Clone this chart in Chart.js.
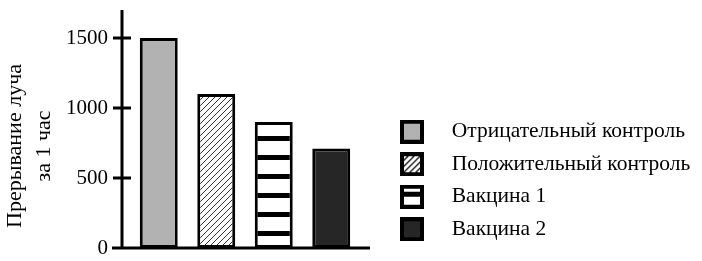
<!DOCTYPE html>
<html>
<head>
<meta charset="utf-8">
<script src="https://cdn.jsdelivr.net/npm/chart.js@4/dist/chart.umd.min.js"></script>
<style>
  html, body { margin: 0; padding: 0; background: #fff; }
  #wrap { width: 702px; height: 261px; position: relative; }
</style>
</head>
<body>
<div id="wrap"><canvas id="chart"></canvas></div>
<script>
const categories = ['Отрицательный контроль', 'Положительный контроль', 'Вакцина 1', 'Вакцина 2'];
const values = [1500, 1100, 900, 710];
const yTicks = [0, 500, 1000, 1500];
const yTitle = ['Прерывание луча', 'за 1 час'];

const serif = '"Liberation Serif", "DejaVu Serif", serif';
const legendFontSize = 21.5;

// hatch "////" for the positive control
function hatchPattern(ctx) {
  const c = document.createElement('canvas');
  c.width = 6; c.height = 6;
  const g = c.getContext('2d');
  g.fillStyle = '#fff';
  g.fillRect(0, 0, 6, 6);
  g.strokeStyle = '#333';
  g.lineWidth = 1;
  g.beginPath();
  g.moveTo(0, 6); g.lineTo(6, 0);
  g.moveTo(-1, 1); g.lineTo(1, -1);
  g.moveTo(5, 7); g.lineTo(7, 5);
  g.stroke();
  return ctx.createPattern(c, 'repeat');
}

// horizontal black bands for vaccine 1
function stripePattern(ctx) {
  const c = document.createElement('canvas');
  c.width = 4; c.height = 19;
  const g = c.getContext('2d');
  g.fillStyle = '#fff';
  g.fillRect(0, 0, 4, 19);
  g.fillStyle = '#000';
  g.fillRect(0, 3, 4, 5);
  return ctx.createPattern(c, 'repeat');
}

const canvas = document.getElementById('chart');
const ctx = canvas.getContext('2d');
const fills = ['#b2b2b2', hatchPattern(ctx), stripePattern(ctx), '#262626'];

// legend swatches: transparent space on the left, box of 24px, then gap
const swatchW = 70, swatchOff = 29;
function makeSwatch(i) {
  const c = document.createElement('canvas');
  c.width = swatchW; c.height = 24;
  const g = c.getContext('2d');
  const x = swatchOff;
  if (i === 2) {
    g.fillStyle = '#fff';
    g.fillRect(x, 0, 24, 24);
    g.fillStyle = '#000';
    g.fillRect(x, 7, 24, 5);
  } else if (i === 1) {
    g.fillStyle = '#fff';
    g.fillRect(x, 0, 24, 24);
    g.save();
    g.beginPath(); g.rect(x, 0, 24, 24); g.clip();
    g.strokeStyle = '#111';
    g.lineWidth = 1.3;
    g.beginPath();
    for (let k = -24; k < 48; k += 6) {
      g.moveTo(x + k, 24); g.lineTo(x + k + 24, 0);
    }
    g.stroke();
    g.restore();
  } else {
    g.fillStyle = fills[i];
    g.fillRect(x, 0, 24, 24);
  }
  g.strokeStyle = '#000';
  g.lineWidth = 4;
  g.strokeRect(x + 2, 2, 20, 20);
  return c;
}
const swatches = categories.map((c, i) => makeSwatch(i));

// the legend should take 342px on the right so the plot ends at x=360
const legendPad = 11;
ctx.font = legendFontSize + 'px ' + serif;
const textW = Math.max(...categories.map(c => ctx.measureText(c).width));
const naturalW = legendPad + swatchW + legendFontSize / 2 + textW + 10;
const padRight = Math.max(0, Math.ceil(342 - naturalW));

// axis lines with ticks crossing the y axis, x axis running a bit past both ends
const axesPlugin = {
  id: 'axesLines',
  afterDatasetsDraw(chart) {
    const { ctx, chartArea } = chart;
    const y = chart.scales.y;
    const axisX = chartArea.left - 8;
    ctx.save();
    ctx.strokeStyle = '#000';
    ctx.lineWidth = 3;
    ctx.beginPath();
    ctx.moveTo(axisX, chartArea.top);
    ctx.lineTo(axisX, chartArea.bottom);
    ctx.moveTo(chartArea.left - 18, chartArea.bottom);
    ctx.lineTo(chartArea.right + 10, chartArea.bottom);
    y.ticks.forEach(t => {
      if (t.value === 0) return;
      const py = y.getPixelForValue(t.value);
      ctx.moveTo(axisX - 9, py);
      ctx.lineTo(axisX + 9, py);
    });
    ctx.stroke();
    ctx.restore();
  }
};

// two-line rotated y title, sitting a little below the middle of the axis
const yTitlePlugin = {
  id: 'yTitle',
  afterDraw(chart) {
    const { ctx, chartArea } = chart;
    const cy = (chartArea.top + chartArea.bottom) / 2 + 17;
    ctx.save();
    ctx.translate(0, cy);
    ctx.rotate(-Math.PI / 2);
    ctx.fillStyle = '#000';
    ctx.font = '22px ' + serif;
    ctx.textAlign = 'center';
    ctx.textBaseline = 'alphabetic';
    ctx.fillText(yTitle[0], 0, 21);
    ctx.fillText(yTitle[1], 0, 50);
    ctx.restore();
  }
};

new Chart(canvas, {
  type: 'bar',
  data: {
    labels: categories,
    datasets: [{
      data: values,
      backgroundColor: fills,
      borderColor: '#000',
      borderWidth: 3,
      borderSkipped: false,
      categoryPercentage: 1,
      barPercentage: 0.66
    }]
  },
  options: {
    responsive: true,
    maintainAspectRatio: false,
    animation: false,
    events: [],
    layout: {
      padding: { top: 10, left: 0, right: padRight, bottom: 10 }
    },
    scales: {
      x: {
        offset: true,
        grid: { display: false, drawTicks: false },
        border: { display: false },
        ticks: { display: false },
        afterFit: s => { s.height = 3; }
      },
      y: {
        min: 0,
        max: 1700,
        // ticks hidden, their length only pushes the labels off the axis
        grid: { display: false, drawTicks: true, tickLength: 22 },
        border: { display: false },
        ticks: {
          padding: 0,
          color: '#000',
          font: { family: serif, size: 21, lineHeight: 0.9 },
          callback: v => String(v)
        },
        afterBuildTicks: s => { s.ticks = yTicks.map(v => ({ value: v })); },
        afterFit: s => { s.width = 130; }
      }
    },
    plugins: {
      tooltip: { enabled: false },
      legend: {
        position: 'right',
        align: 'end',
        maxWidth: 342 - padRight,
        labels: {
          usePointStyle: true,
          pointStyleWidth: swatchW,
          padding: legendPad,
          color: '#000',
          font: { family: serif, size: legendFontSize },
          generateLabels: () => categories.map((c, i) => ({
            text: c,
            pointStyle: swatches[i],
            fillStyle: '#000',
            strokeStyle: '#000',
            lineWidth: 0,
            hidden: false,
            index: i,
            datasetIndex: 0
          }))
        }
      }
    }
  },
  plugins: [axesPlugin, yTitlePlugin]
});
</script>
</body>
</html>
